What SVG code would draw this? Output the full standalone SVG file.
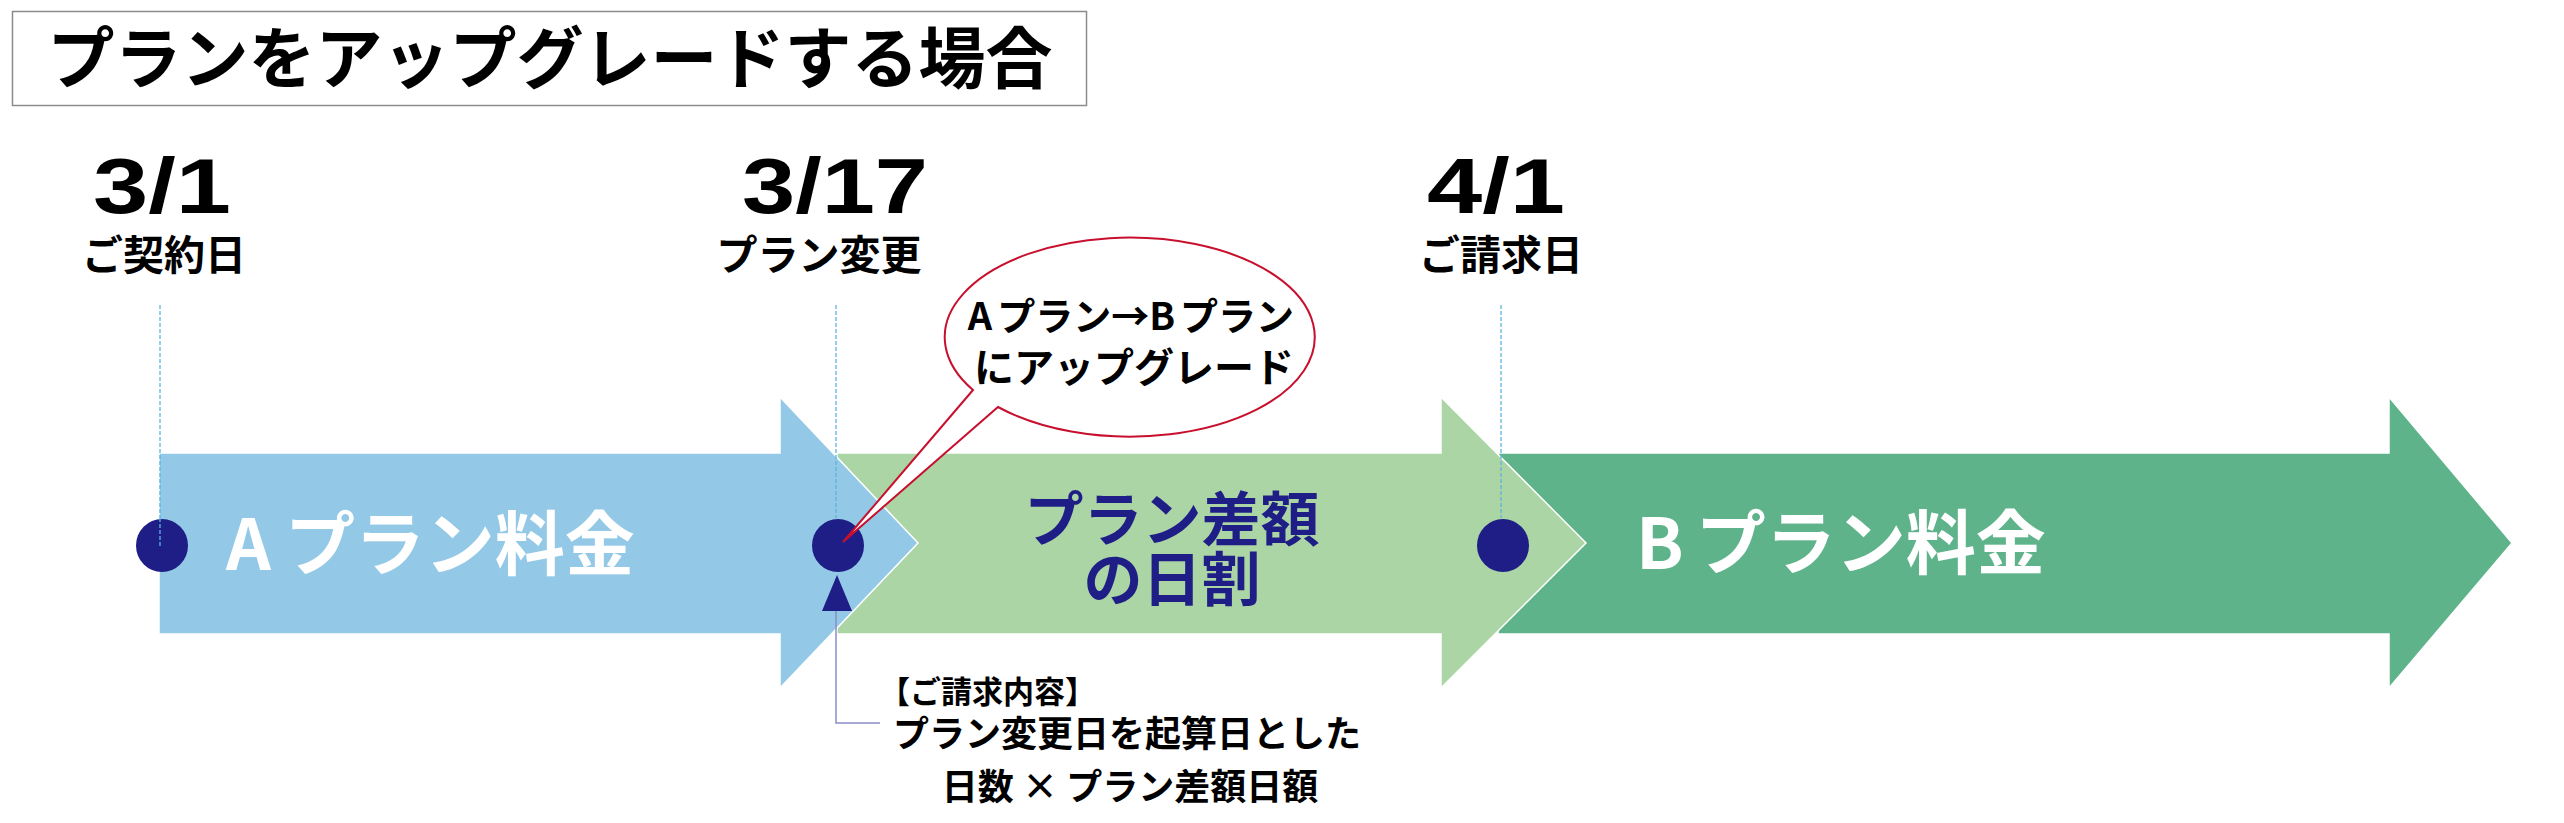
<svg xmlns="http://www.w3.org/2000/svg" width="2564" height="823" viewBox="0 0 2564 823">
<style>
.jp{font-family:"Noto Sans CJK JP","Noto Sans",sans-serif;font-weight:700}
.num{font-family:"Liberation Sans",Arial,sans-serif;font-weight:700;font-size:77px;fill:#000}
.lbl{font-size:41px;fill:#000;text-anchor:middle}
.arrow{stroke:#fff;stroke-width:1.5}
.dot{fill:#1e1e86}
.guide{stroke:#5ab4e0;stroke-width:1.3;stroke-dasharray:4 2;fill:none}
</style>
<rect width="2564" height="823" fill="#fff"/>
<g id="title">
<rect x="12.5" y="11.5" width="1074" height="94" fill="#fff" stroke="#8c8c8c" stroke-width="1.5"/>
<text class="jp" x="550" y="83" font-size="67" text-anchor="middle" fill="#000">プランをアップグレードする場合</text>
</g>
<g id="date-0301">
<text class="num" x="93" y="213" textLength="138" lengthAdjust="spacingAndGlyphs">3/1</text>
<text class="jp lbl" x="164" y="270">ご契約日</text>
</g>
<g id="date-0317">
<text class="num" x="742" y="213" textLength="186" lengthAdjust="spacingAndGlyphs">3/17</text>
<text class="jp lbl" x="819" y="270">プラン変更</text>
</g>
<g id="date-0401">
<text class="num" x="1427" y="213" textLength="138" lengthAdjust="spacingAndGlyphs">4/1</text>
<text class="jp lbl" x="1501" y="270">ご請求日</text>
</g>
<g id="arrow-b">
<polygon class="arrow" fill="#5fb38a" points="1498,453 2389,453 2389,397 2512,543 2389,688 2389,634 1498,634"/>
<text class="jp" x="1636" y="569" font-size="70" fill="#fff">B<tspan dx="12">プラン料金</tspan></text>
</g>
<g id="arrow-diff">
<polygon class="arrow" fill="#abd5a5" points="837,453 1441,453 1441,397 1586,543 1441,688 1441,634 837,634"/>
<text class="jp" x="1172" y="541" font-size="59" fill="#1e1e86" text-anchor="middle">プラン差額</text>
<text class="jp" x="1172" y="601" font-size="59" fill="#1e1e86" text-anchor="middle">の日割</text>
</g>
<g id="arrow-a">
<polygon class="arrow" fill="#93c9e6" points="159,453 780,453 780,397 918,543 780,688 780,634 159,634"/>
<text class="jp" x="226" y="570" font-size="70" fill="#fff">A<tspan dx="14">プラン料金</tspan></text>
</g>
<g id="connectors">
<line class="guide" x1="160" y1="305" x2="160" y2="518"/>
<line class="guide" x1="836" y1="305" x2="836" y2="518"/>
<line class="guide" x1="1501" y1="305" x2="1501" y2="518"/>
<polyline points="836,611 836,723 880,723" fill="none" stroke="#8c8cc8" stroke-width="1.5"/>
</g>
<g id="marker-0301">
<ellipse class="dot" cx="162" cy="545.5" rx="26" ry="26.5"/>
<line class="guide" x1="160" y1="518" x2="160" y2="546"/>
</g>
<g id="marker-0317">
<ellipse class="dot" cx="838" cy="545.5" rx="26" ry="26.5"/>
<polygon class="dot" points="837,575 822,611 852,611"/>
</g>
<g id="marker-0401">
<ellipse class="dot" cx="1503" cy="545.5" rx="26" ry="26.5"/>
</g>
<g id="callout">
<path d="M973,390 A185,99.5 0 1 1 998,407 L843,542 Z" fill="#fff" stroke="#c8102e" stroke-width="2" stroke-linejoin="miter"/>
<text class="jp" x="1131" y="330" font-size="38" text-anchor="middle" fill="#000">A<tspan dx="5">プラン→B</tspan><tspan dx="5">プラン</tspan></text>
<text class="jp" x="1134" y="382" font-size="40" text-anchor="middle" fill="#000">にアップグレード</text>
</g>
<g id="note">
<text class="jp" x="879" y="703" font-size="31" fill="#000">【ご請求内容】</text>
<text class="jp" x="1127" y="747" font-size="36" text-anchor="middle" fill="#000">プラン変更日を起算日とした</text>
<text class="jp" x="1130" y="800" font-size="36" text-anchor="middle" fill="#000">日数 × プラン差額日額</text>
</g>
</svg>
